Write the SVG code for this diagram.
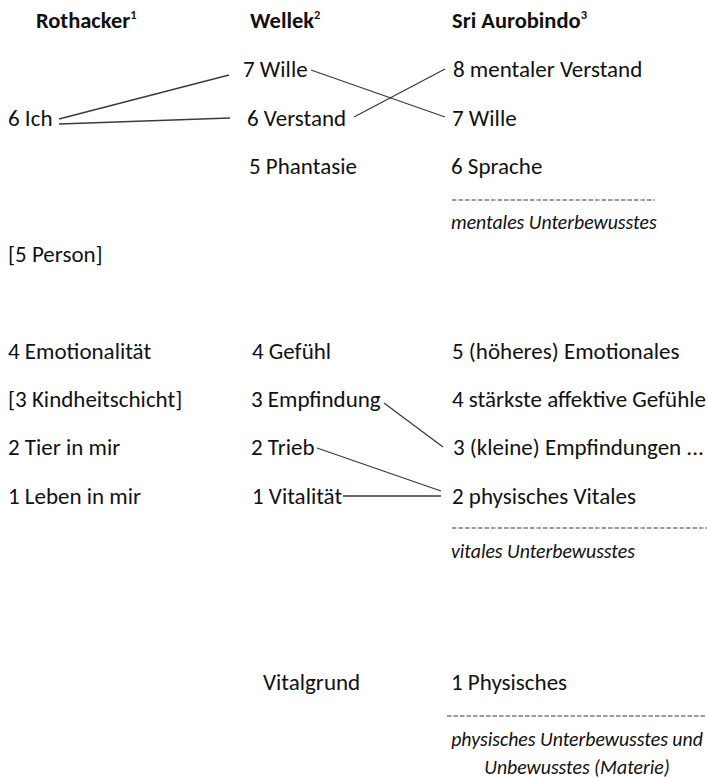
<svg xmlns="http://www.w3.org/2000/svg" width="707" height="778" viewBox="0 0 707 778">
<style>
text{font-family:Carlito,Lato,"Noto Sans",sans-serif;font-size:23px;fill:#111}
.h{font-weight:bold;font-size:22.5px}
.i{font-style:italic;font-size:19.8px}
.c line{stroke:#3a3a3a;stroke-width:1.3}
.d{stroke:#3a3a3a;stroke-width:1.2;stroke-dasharray:4.5 2}
.s{font-size:12.5px;font-weight:bold}
</style>
<rect width="707" height="778" fill="#fff"/>
<g id="headers">
<text class="h" x="36" y="28">Rothacker<tspan class="s" dy="-9">1</tspan></text>
<text class="h" x="250" y="28">Wellek<tspan class="s" dy="-9">2</tspan></text>
<text class="h" x="452" y="28">Sri Aurobindo<tspan class="s" dy="-9">3</tspan></text>
</g>
<g id="rothacker">
<g id="r6"><text x="8" y="126">6 Ich</text></g>
<g id="r5"><text x="8" y="262">[5 Person]</text></g>
<g id="r4"><text x="8" y="359">4 Emotionalität</text></g>
<g id="r3"><text x="8" y="407">[3 Kindheitschicht]</text></g>
<g id="r2"><text x="8" y="455">2 Tier in mir</text></g>
<g id="r1"><text x="8" y="504">1 Leben in mir</text></g>
</g>
<g id="wellek">
<g id="w7"><text x="243" y="77">7 Wille</text></g>
<g id="w6"><text x="247" y="126">6 Verstand</text></g>
<g id="w5"><text x="249" y="174">5 Phantasie</text></g>
<g id="w4"><text x="252" y="359">4 Gefühl</text></g>
<g id="w3"><text x="251" y="407">3 Empfindung</text></g>
<g id="w2"><text x="251" y="455">2 Trieb</text></g>
<g id="w1"><text x="252" y="504">1 Vitalität</text></g>
<g id="wv"><text x="263" y="690">Vitalgrund</text></g>
</g>
<g id="aurobindo">
<g id="a8"><text x="453" y="77">8 mentaler Verstand</text></g>
<g id="a7"><text x="452" y="126">7 Wille</text></g>
<g id="a6"><text x="451" y="174">6 Sprache</text></g>
<g id="am"><line class="d" x1="452" y1="200" x2="655" y2="200"/><text class="i" x="451" y="229">mentales Unterbewusstes</text></g>
<g id="a5"><text x="452" y="359">5 (höheres) Emotionales</text></g>
<g id="a4"><text x="452" y="407">4 stärkste affektive Gefühle</text></g>
<g id="a3"><text x="453" y="455">3 (kleine) Empfindungen ...</text></g>
<g id="a2"><text x="452" y="504">2 physisches Vitales</text></g>
<g id="av"><line class="d" x1="452" y1="528" x2="707" y2="528"/><text class="i" x="451" y="558">vitales Unterbewusstes</text></g>
<g id="a1"><text x="451" y="690">1 Physisches</text></g>
<g id="ap"><line class="d" x1="447" y1="716" x2="707" y2="716"/><text class="i" x="577" y="746" text-anchor="middle">physisches Unterbewusstes und</text><text class="i" x="577" y="774" text-anchor="middle">Unbewusstes (Materie)</text></g>
</g>
<g class="c" id="connectors">
<line x1="59" y1="119" x2="229" y2="75"/>
<line x1="59" y1="124" x2="230" y2="118"/>
<line x1="311" y1="70" x2="445" y2="117"/>
<line x1="354" y1="117" x2="445" y2="69"/>
<line x1="384" y1="403" x2="443" y2="447"/>
<line x1="317" y1="448" x2="441" y2="491"/>
<line x1="343" y1="496" x2="441" y2="496"/>
</g>
</svg>
